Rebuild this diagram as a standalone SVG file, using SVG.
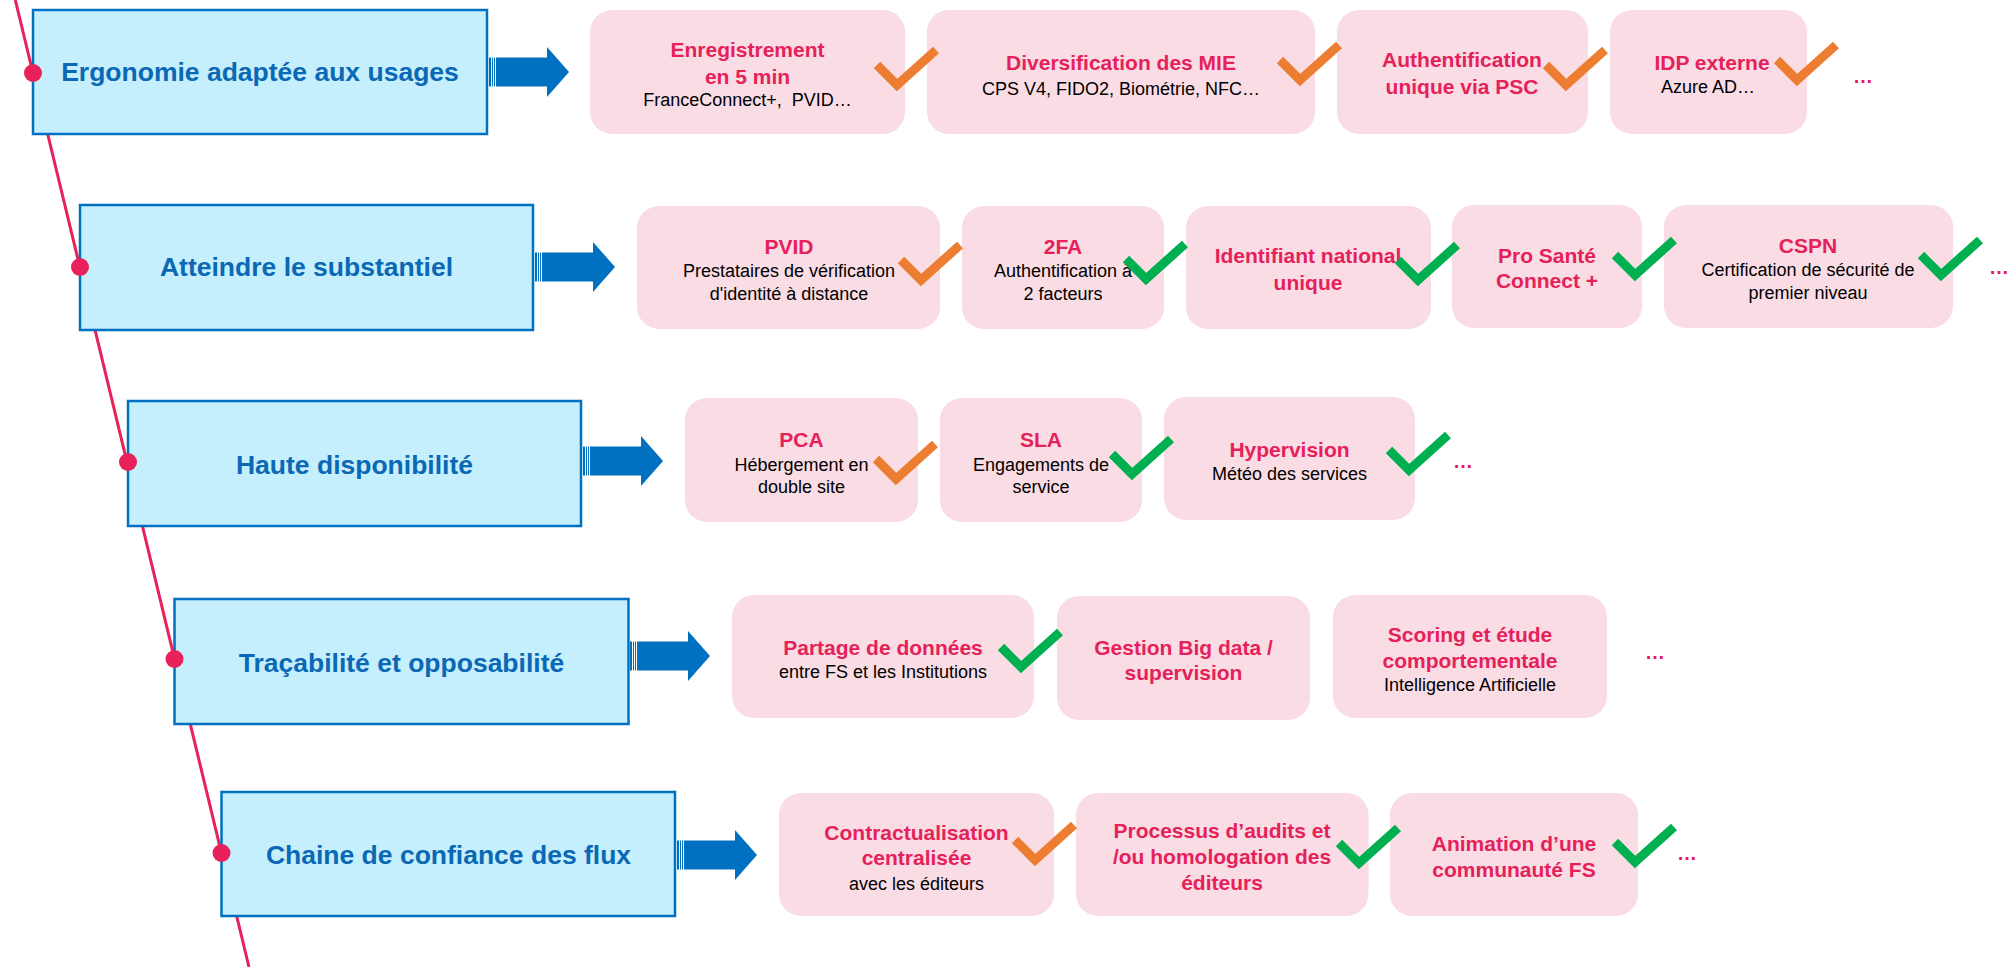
<svg xmlns="http://www.w3.org/2000/svg" xmlns:xlink="http://www.w3.org/1999/xlink" width="2013" height="967" viewBox="0 0 2013 967">
<style>
.box{fill:#C5EFFD;stroke:#0070C0;stroke-width:2.5}
.bt{font-family:"Liberation Sans",Arial,sans-serif;font-weight:bold;font-size:26.5px;fill:#0A68B4;text-anchor:middle}
.card{fill:#FADCE4}
.t{font-family:"Liberation Sans",Arial,sans-serif;font-weight:bold;font-size:21px;fill:#E6215A;text-anchor:middle}
.s{font-family:"Liberation Sans",Arial,sans-serif;font-size:18px;fill:#000;text-anchor:middle}
.more{font-family:"Liberation Sans",Arial,sans-serif;font-weight:bold;font-size:20px;fill:#E6215A}
.dot{fill:#E8215A}
.ko{fill:none;stroke:#ED7D31;stroke-width:9;stroke-linejoin:miter}
.kg{fill:none;stroke:#00B050;stroke-width:9;stroke-linejoin:miter}
.arr{fill:#0070C0}
</style>
<defs>
<g id="arrow">
<rect x="0" y="-14.5" width="2" height="29" class="arr"/>
<rect x="3" y="-14.5" width="1" height="29" class="arr"/>
<rect x="5" y="-14.5" width="1" height="29" class="arr"/>
<path d="M7,-14.5 H58 V-25 L80,0 L58,25 V14.5 H7 Z" class="arr"/>
</g>
<polyline id="chk" points="2,17 22,37 61,2"/>
</defs>

<g id="connectors">
<line x1="15.3" y1="0" x2="249" y2="967" stroke="#E8215A" stroke-width="3"/>
<use xlink:href="#arrow" href="#arrow" transform="translate(489,72)"/>
<use xlink:href="#arrow" href="#arrow" transform="translate(535,267)"/>
<use xlink:href="#arrow" href="#arrow" transform="translate(583,461)"/>
<use xlink:href="#arrow" href="#arrow" transform="translate(630,656)"/>
<use xlink:href="#arrow" href="#arrow" transform="translate(677,855)"/>
</g>

<!-- Row 1 -->
<g id="axis1">
<rect class="box" x="33" y="10" width="454" height="124"/>
<text class="bt" x="260" y="81">Ergonomie adaptée aux usages</text>
<circle class="dot" cx="33" cy="73" r="9"/>
</g>
<g id="r1c1">
<rect class="card" x="590" y="10" width="315" height="124" rx="22"/>
<text class="t" x="747.5" y="56.5">Enregistrement</text>
<text class="t" x="747.5" y="83.5">en 5 min</text>
<text class="s" x="747.5" y="105.5" xml:space="preserve">FranceConnect+,  PVID…</text>
</g>
<g id="r1c2">
<rect class="card" x="927" y="10" width="388" height="124" rx="22"/>
<text class="t" x="1121" y="69.5">Diversification des MIE</text>
<text class="s" x="1121" y="94.5">CPS V4, FIDO2, Biométrie, NFC…</text>
</g>
<g id="r1c3">
<rect class="card" x="1337" y="10" width="251" height="124" rx="22"/>
<text class="t" x="1462" y="66.5">Authentification</text>
<text class="t" x="1462" y="93.5">unique via PSC</text>
</g>
<g id="r1c4">
<rect class="card" x="1610" y="10" width="197" height="124" rx="22"/>
<text class="t" x="1712" y="69.5">IDP externe</text>
<text class="s" x="1708" y="92.5">Azure AD…</text>
</g>
<g id="r1checks">
<use xlink:href="#chk" href="#chk" class="ko" transform="translate(875,48)"/>
<use xlink:href="#chk" href="#chk" class="ko" transform="translate(1278,43)"/>
<use xlink:href="#chk" href="#chk" class="ko" transform="translate(1544,48)"/>
<use xlink:href="#chk" href="#chk" class="ko" transform="translate(1775,43)"/>
<text class="more" x="1853" y="83">…</text>
</g>

<!-- Row 2 -->
<g id="axis2">
<rect class="box" x="80" y="205" width="453" height="125"/>
<text class="bt" x="306.5" y="276">Atteindre le substantiel</text>
<circle class="dot" cx="80" cy="267" r="9"/>
</g>
<g id="r2c1">
<rect class="card" x="637" y="206" width="303" height="123" rx="22"/>
<text class="t" x="789" y="253.5">PVID</text>
<text class="s" x="789" y="276.5">Prestataires de vérification</text>
<text class="s" x="789" y="299.5">d'identité à distance</text>
</g>
<g id="r2c2">
<rect class="card" x="962" y="206" width="202" height="123" rx="22"/>
<text class="t" x="1063" y="253.5">2FA</text>
<text class="s" x="1063" y="276.5">Authentification à</text>
<text class="s" x="1063" y="299.5">2 facteurs</text>
</g>
<g id="r2c3">
<rect class="card" x="1186" y="206" width="245" height="123" rx="22"/>
<text class="t" x="1308" y="262.5">Identifiant national</text>
<text class="t" x="1308" y="289.5">unique</text>
</g>
<g id="r2c4">
<rect class="card" x="1452" y="205" width="190" height="123" rx="22"/>
<text class="t" x="1547" y="262.5">Pro Santé</text>
<text class="t" x="1547" y="287.5">Connect +</text>
</g>
<g id="r2c5">
<rect class="card" x="1664" y="205" width="289" height="123" rx="22"/>
<text class="t" x="1808" y="252.5">CSPN</text>
<text class="s" x="1808" y="275.5">Certification de sécurité de</text>
<text class="s" x="1808" y="298.5">premier niveau</text>
</g>
<g id="r2checks">
<use xlink:href="#chk" href="#chk" class="ko" transform="translate(899,243)"/>
<use xlink:href="#chk" href="#chk" class="kg" transform="translate(1124,242)"/>
<use xlink:href="#chk" href="#chk" class="kg" transform="translate(1396,243)"/>
<use xlink:href="#chk" href="#chk" class="kg" transform="translate(1613,238)"/>
<use xlink:href="#chk" href="#chk" class="kg" transform="translate(1919,238)"/>
<text class="more" x="1989" y="274">…</text>
</g>

<!-- Row 3 -->
<g id="axis3">
<rect class="box" x="128" y="401" width="453" height="125"/>
<text class="bt" x="354.5" y="474">Haute disponibilité</text>
<circle class="dot" cx="128" cy="462" r="9"/>
</g>
<g id="r3c1">
<rect class="card" x="685" y="398" width="233" height="124" rx="22"/>
<text class="t" x="801.5" y="446.5">PCA</text>
<text class="s" x="801.5" y="470.5">Hébergement en</text>
<text class="s" x="801.5" y="492.5">double site</text>
</g>
<g id="r3c2">
<rect class="card" x="940" y="398" width="202" height="124" rx="22"/>
<text class="t" x="1041" y="446.5">SLA</text>
<text class="s" x="1041" y="470.5">Engagements de</text>
<text class="s" x="1041" y="492.5">service</text>
</g>
<g id="r3c3">
<rect class="card" x="1164" y="397" width="251" height="123" rx="22"/>
<text class="t" x="1289.5" y="456.5">Hypervision</text>
<text class="s" x="1289.5" y="479.5">Météo des services</text>
</g>
<g id="r3checks">
<use xlink:href="#chk" href="#chk" class="ko" transform="translate(874,442)"/>
<use xlink:href="#chk" href="#chk" class="kg" transform="translate(1110,437)"/>
<use xlink:href="#chk" href="#chk" class="kg" transform="translate(1387,433)"/>
<text class="more" x="1453" y="468">…</text>
</g>

<!-- Row 4 -->
<g id="axis4">
<rect class="box" x="174.5" y="599" width="454" height="125"/>
<text class="bt" x="401.5" y="672">Traçabilité et opposabilité</text>
<circle class="dot" cx="174.5" cy="659" r="9"/>
</g>
<g id="r4c1">
<rect class="card" x="732" y="595" width="302" height="123" rx="22"/>
<text class="t" x="883" y="654.5">Partage de données</text>
<text class="s" x="883" y="677.5">entre FS et les Institutions</text>
</g>
<g id="r4c2">
<rect class="card" x="1057" y="596" width="253" height="124" rx="22"/>
<text class="t" x="1183.5" y="654.5">Gestion Big data /</text>
<text class="t" x="1183.5" y="679.5">supervision</text>
</g>
<g id="r4c3">
<rect class="card" x="1333" y="595" width="274" height="123" rx="22"/>
<text class="t" x="1470" y="641.5">Scoring et étude</text>
<text class="t" x="1470" y="667.5">comportementale</text>
<text class="s" x="1470" y="690.5">Intelligence Artificielle</text>
</g>
<g id="r4checks">
<use xlink:href="#chk" href="#chk" class="kg" transform="translate(999,630)"/>
<text class="more" x="1645" y="659">…</text>
</g>

<!-- Row 5 -->
<g id="axis5">
<rect class="box" x="221.5" y="792" width="453.5" height="124"/>
<text class="bt" x="448.5" y="864">Chaine de confiance des flux</text>
<circle class="dot" cx="221.5" cy="853" r="9"/>
</g>
<g id="r5c1">
<rect class="card" x="779" y="793" width="275" height="123" rx="22"/>
<text class="t" x="916.5" y="839.5">Contractualisation</text>
<text class="t" x="916.5" y="864.5">centralisée</text>
<text class="s" x="916.5" y="889.5">avec les éditeurs</text>
</g>
<g id="r5c2">
<rect class="card" x="1076" y="793" width="292.5" height="123" rx="22"/>
<text class="t" x="1222" y="837.5">Processus d’audits et</text>
<text class="t" x="1222" y="863.5">/ou homologation des</text>
<text class="t" x="1222" y="889.5">éditeurs</text>
</g>
<g id="r5c3">
<rect class="card" x="1390" y="793" width="248" height="123" rx="22"/>
<text class="t" x="1514" y="850.5">Animation d’une</text>
<text class="t" x="1514" y="876.5">communauté FS</text>
</g>
<g id="r5checks">
<use xlink:href="#chk" href="#chk" class="ko" transform="translate(1013,823)"/>
<use xlink:href="#chk" href="#chk" class="kg" transform="translate(1337,826)"/>
<use xlink:href="#chk" href="#chk" class="kg" transform="translate(1613,825)"/>
<text class="more" x="1677" y="860">…</text>
</g>
</svg>
